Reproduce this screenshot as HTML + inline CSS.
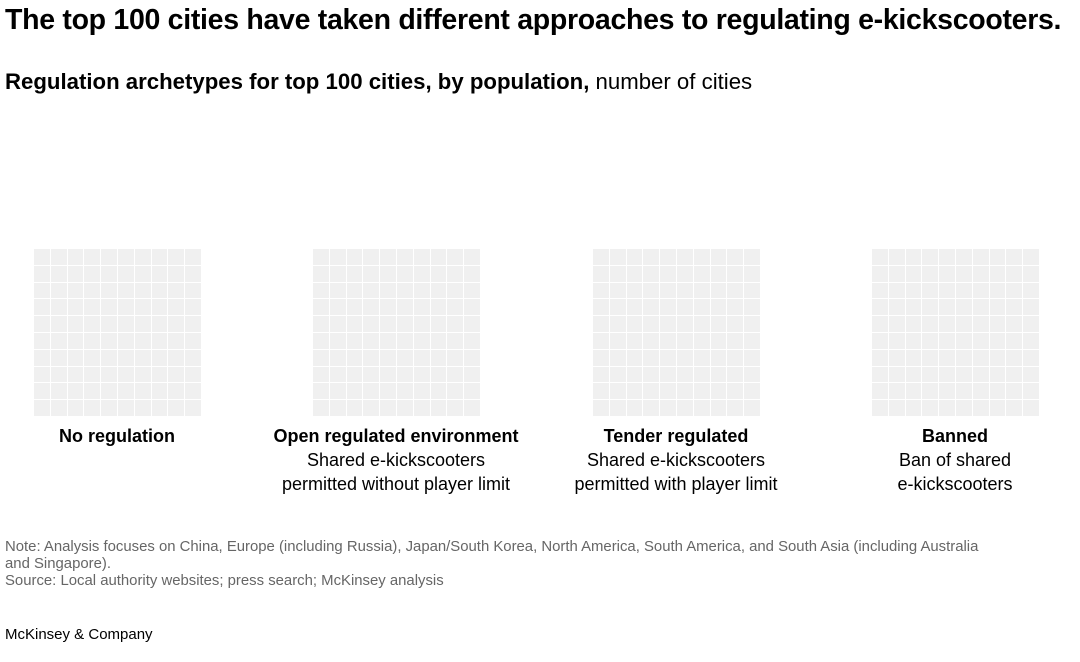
<!DOCTYPE html>
<html><head><style>
body{margin:0;width:1080px;height:662px;background:#fff;font-family:"Liberation Sans",Arial,sans-serif;color:#000;position:relative;overflow:hidden}
.t{position:absolute;white-space:nowrap}
.g{position:absolute;top:249px;width:167px;height:167px;display:grid;grid-template-columns:repeat(10,1fr);grid-template-rows:repeat(10,1fr);gap:1px}
.g div{background:#f0f0f0}
.lab{position:absolute;top:424px;width:300px;text-align:center;font-size:18px;line-height:24px}
.lab b{display:block}
</style></head><body>
<div class="t" style="left:5px;top:4px;font-size:28.5px;font-weight:bold;letter-spacing:-0.3px">The top 100 cities have taken different approaches to regulating e-kickscooters.</div>
<div class="t" style="left:5px;top:69px;font-size:22.2px"><b>Regulation archetypes for top 100 cities, by population,</b> number of cities</div>
<div class="g" style="left:34px" id="g1"></div>
<div class="g" style="left:313px" id="g2"></div>
<div class="g" style="left:593px" id="g3"></div>
<div class="g" style="left:872px" id="g4"></div>
<div class="lab" style="left:-33px"><b>No regulation</b></div>
<div class="lab" style="left:246px"><b>Open regulated environment</b>Shared e-kickscooters<br>permitted without player limit</div>
<div class="lab" style="left:526px"><b>Tender regulated</b>Shared e-kickscooters<br>permitted with player limit</div>
<div class="lab" style="left:805px"><b>Banned</b>Ban of shared<br>e-kickscooters</div>
<div class="t" style="left:5px;top:539px;font-size:14.9px;line-height:17px;color:#666">Note: Analysis focuses on China, Europe (including Russia), Japan/South Korea, North America, South America, and South Asia (including Australia<br>and Singapore).<br>Source: Local authority websites; press search; McKinsey analysis</div>
<div class="t" style="left:5px;top:626px;font-size:15px">McKinsey &amp; Company</div>
<script>
for(const id of ["g1","g2","g3","g4"]){const g=document.getElementById(id);for(let i=0;i<100;i++)g.appendChild(document.createElement("div"));}
</script>
</body></html>
